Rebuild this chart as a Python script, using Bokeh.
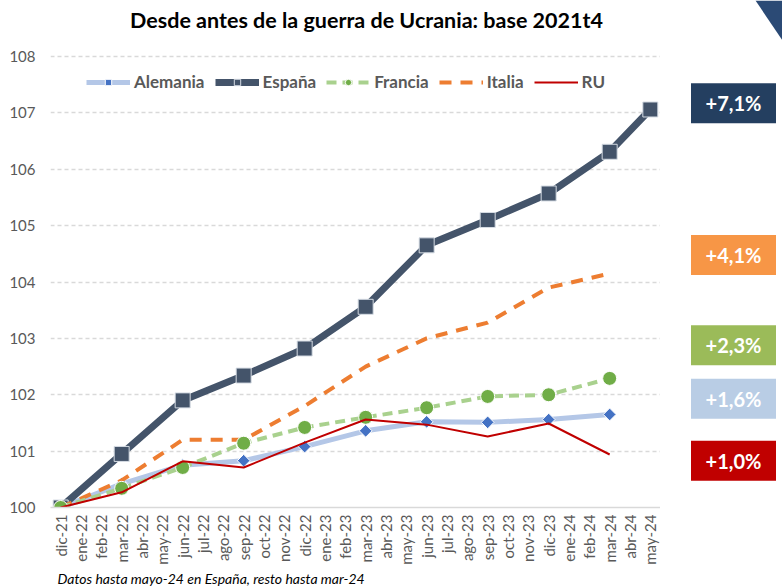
from bokeh.plotting import figure
from bokeh.models import Range1d, Legend, LegendItem, Title, Label
from bokeh.layouts import row
from bokeh.core.properties import value
from bokeh.embed import file_html
from bokeh.resources import INLINE

months = ["dic-21", "ene-22", "feb-22", "mar-22", "abr-22", "may-22", "jun-22", "jul-22",
          "ago-22", "sep-22", "oct-22", "nov-22", "dic-22", "ene-23", "feb-23", "mar-23",
          "abr-23", "may-23", "jun-23", "jul-23", "ago-23", "sep-23", "oct-23", "nov-23",
          "dic-23", "ene-24", "feb-24", "mar-24", "abr-24", "may-24"]

quarters = ["dic-21", "mar-22", "jun-22", "sep-22", "dic-22", "mar-23", "jun-23",
            "sep-23", "dic-23", "mar-24"]
spain_x = quarters + ["may-24"]

alemania = [100.0, 100.42, 100.75, 100.83, 101.08, 101.36, 101.52, 101.51, 101.56, 101.65]
espana = [100.0, 100.95, 101.90, 102.34, 102.82, 103.56, 104.65, 105.10, 105.57, 106.31, 107.06]
francia = [100.0, 100.34, 100.71, 101.14, 101.42, 101.60, 101.77, 101.97, 102.00, 102.29]
italia = [100.0, 100.48, 101.20, 101.20, 101.80, 102.50, 103.00, 103.28, 103.90, 104.15]
ru = [100.0, 100.27, 100.82, 100.71, 101.15, 101.56, 101.47, 101.26, 101.49, 100.94]

y_ticks = [100, 101, 102, 103, 104, 105, 106, 107, 108]

box_labels = ["+7,1%", "+4,1%", "+2,3%", "+1,6%", "+1,0%"]
box_y = [107.17, 104.48, 102.88, 101.93, 100.83]
box_colors = ["#243F60", "#F79646", "#9BBB59", "#B9CDE5", "#C00000"]

FONT = "Lato"
GREY = "#595959"

W, H = 782, 587
FRAME_L, FRAME_R, GRID_TOP, FRAME_B = 50, 660, 56, 507
Y0, Y1 = 100, 108
PX_PER_UNIT = (FRAME_B - GRID_TOP) / (Y1 - Y0)
Y_TOP = Y1 + GRID_TOP / PX_PER_UNIT  # frame extends up to the top of the page


def y_at(px):
    """data value at a given page row (for layout of annotations)"""
    return Y0 + (FRAME_B - px) / PX_PER_UNIT


p = figure(x_range=months, y_range=Range1d(Y0, Y_TOP), width=FRAME_R, height=H,
           output_backend="svg", toolbar_location=None,
           min_border_left=FRAME_L, min_border_right=0, min_border_top=0,
           min_border_bottom=H - FRAME_B)
p.outline_line_color = None
p.border_fill_color = "white"

p.xgrid.grid_line_color = None
p.ygrid.grid_line_color = "#D9D9D9"
p.ygrid.grid_line_dash = "4 3"
p.ygrid.grid_line_width = 1.5

p.yaxis.ticker = y_ticks
p.yaxis.axis_line_color = None
p.yaxis.major_tick_line_color = None
p.yaxis.minor_tick_line_color = None
p.yaxis.major_tick_out = 0
p.yaxis.minor_tick_out = 0
p.yaxis.major_label_text_font = FONT
p.yaxis.major_label_text_font_size = "15px"
p.yaxis.major_label_text_color = GREY
p.yaxis.major_label_standoff = 15

p.xaxis.axis_line_color = "#D9D9D9"
p.xaxis.axis_line_width = 1.5
p.xaxis.major_tick_line_color = None
p.xaxis.minor_tick_line_color = None
p.xaxis.major_tick_out = 0
p.xaxis.minor_tick_out = 0
p.xaxis.major_label_orientation = 3.14159 / 2
p.xaxis.major_label_text_font = FONT
p.xaxis.major_label_text_font_size = "15px"
p.xaxis.major_label_text_color = GREY
p.xaxis.major_label_standoff = 7

l_al = p.line(quarters, alemania, line_color="#B4C7E7", line_width=5)
m_al = p.scatter(quarters, alemania, marker="square", angle=0.7854, size=9,
                 fill_color="#4472C4", line_color="white", line_width=1)
l_es = p.line(spain_x, espana, line_color="#44546A", line_width=7)
m_es = p.scatter(spain_x, espana, marker="square", size=15, fill_color="#44546A",
                 line_color="#D6DCE4", line_width=1)
l_it = p.line(quarters, italia, line_color="#ED7D31", line_width=4, line_dash="12 9")
l_fr = p.line(quarters, francia, line_color="#A9D18E", line_width=4, line_dash="10 6")
m_fr = p.scatter(quarters, francia, marker="circle", size=14, fill_color="#70AD47",
                 line_color="white", line_width=1)
l_ru = p.line(quarters, ru, line_color="#C00000", line_width=2)

legend = Legend(items=[
    LegendItem(label="Alemania", renderers=[l_al, m_al]),
    LegendItem(label="España", renderers=[l_es, m_es]),
    LegendItem(label="Francia", renderers=[l_fr, m_fr]),
    LegendItem(label="Italia", renderers=[l_it]),
    LegendItem(label="RU", renderers=[l_ru]),
], orientation="horizontal", location=(36, 415))
legend.label_text_font = FONT
legend.label_text_font_size = "17px"
legend.label_text_font_style = "bold"
legend.label_text_color = GREY
legend.glyph_width = 44
legend.glyph_height = 16
legend.label_standoff = 4
legend.spacing = 10
legend.padding = 2
legend.margin = 0
legend.border_line_color = None
legend.background_fill_alpha = 0
p.add_layout(legend, "center")

p.add_layout(Label(x=316, y=y_at(19), x_units="screen", y_units="data",
                   text="Desde antes de la guerra de Ucrania: base 2021t4",
                   text_font=FONT, text_font_size="21.5px", text_font_style="bold",
                   text_color="black", text_align="center", text_baseline="middle"))

p.add_layout(Title(text="Datos hasta mayo-24 en España, resto hasta mar-24",
                   text_font=FONT, text_font_size="14px", text_font_style="italic",
                   text_color="black", align="left", offset=7, standoff=0), "below")

# Side panel with the summary boxes, sharing the same vertical scale
side = figure(x_range=Range1d(0, W - FRAME_R), y_range=p.y_range,
              width=W - FRAME_R, height=H, output_backend="svg", toolbar_location=None,
              x_axis_type=None, y_axis_type=None,
              min_border_left=0, min_border_right=0, min_border_top=0,
              min_border_bottom=H - FRAME_B)
side.outline_line_color = None
side.xgrid.grid_line_color = None
side.ygrid.grid_line_color = None

BOX_X = 73
BOX_W = 85
BOX_H = 40 / PX_PER_UNIT
side.rect(x=[BOX_X] * len(box_y), y=box_y, width=BOX_W, height=BOX_H,
          fill_color=box_colors, line_color=None)
side.text(x=[BOX_X] * len(box_y), y=box_y, text=box_labels,
          text_font=value(FONT), text_font_size="20px", text_font_style="bold",
          text_color="white", text_align="center", text_baseline="middle")

# corner decoration of the slide
side.patch(x=[95, W - FRAME_R, W - FRAME_R], y=[Y_TOP, Y_TOP, y_at(40)],
           fill_color="#2B4A75", line_color=None)

open("out.html", "w").write(file_html(row(p, side), INLINE))
